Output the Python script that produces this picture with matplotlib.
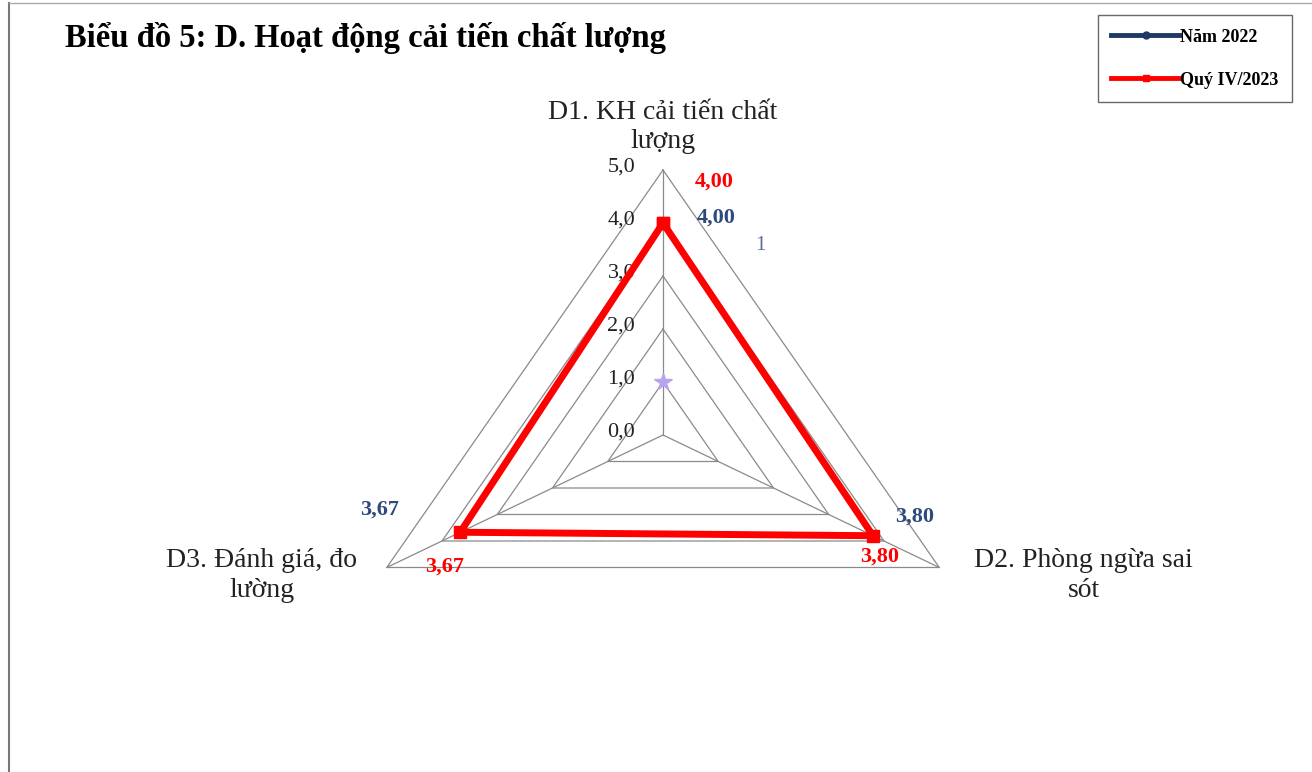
import numpy as np
import matplotlib
matplotlib.use("Agg")
import matplotlib.pyplot as plt
from matplotlib.lines import Line2D

SERIF = ['Liberation Serif', 'DejaVu Serif']
plt.rcParams['font.family'] = SERIF

# data
categories = ["D1. KH cải tiến chất\nlượng", "D2. Phòng ngừa sai\nsót", "D3. Đánh giá, đo\nlường"]
nam_2022 = [4.00, 3.80, 3.67]
quy4_2023 = [4.00, 3.80, 3.67]
series_names = ["Năm 2022", "Quý IV/2023"]
levels = [0, 1, 2, 3, 4, 5]
level_labels = ["0,0", "1,0", "2,0", "3,0", "4,0", "5,0"]
stray_point = 1.0  # lone star marker on D1 axis

RED = "#FF0000"
NAVY = "#1F3864"
BLUE_LBL = "#2E4A7A"
GRID = "#8A8A8A"

angles = np.array([0, 120, 240]) * np.pi / 180


def to_xy(vals):
    vals = np.asarray(vals, dtype=float)
    return vals * np.sin(angles), vals * np.cos(angles)


def closed(a):
    return np.append(a, a[0])


fig = plt.figure(figsize=(13.12, 7.72), dpi=100)
ax = fig.add_axes([0, 0, 1, 1])
# chart is stretched horizontally like the original picture
ax.set_xlim(-663 / 63.8, (1312 - 663) / 63.8)
ax.set_ylim(-(772 - 435) / 53.0, 435 / 53.0)
ax.axis('off')

# grid triangles and spokes
for lv in levels[1:]:
    gx, gy = to_xy([lv] * 3)
    ax.plot(closed(gx), closed(gy), color=GRID, lw=0.9, zorder=1)
ox, oy = to_xy([levels[-1]] * 3)
for x, y in zip(ox, oy):
    ax.plot([0, x], [0, y], color=GRID, lw=0.9, zorder=1)

# radial tick labels along D1
for lv, lab in zip(levels, level_labels):
    ax.annotate(lab, (0, lv), xytext=(-20, 2), textcoords='offset points',
                ha='right', va='center', fontsize=16, color='#222222')

# series
bx, by = to_xy(nam_2022)
ax.plot(closed(bx), closed(by), color=NAVY, lw=3, marker='D', ms=5, zorder=3)
rx, ry = to_xy(quy4_2023)
ax.plot(closed(rx), closed(ry), color=RED, lw=5, marker='s', ms=8.5, zorder=4)

# stray star marker and "1"
sx, sy = np.sin(angles[0]) * stray_point, np.cos(angles[0]) * stray_point
ax.plot(sx, sy, marker='*', ms=13, color='#B9A3EE', ls='none', zorder=5)
ax.text(1.52, 3.58, "1", fontsize=15, color='#5A6E9A', ha='center', va='center')

# value labels (offsets in points)
blue_off = [(38, 4), (30, 14), (-58, 16)]
red_off = [(37, 30), (5, -15), (-11, -25)]
for i in range(3):
    ax.annotate(f"{nam_2022[i]:.2f}".replace('.', ','), (bx[i], by[i]),
                xytext=blue_off[i], textcoords='offset points', ha='center',
                va='center', fontsize=16, fontweight='bold', color=BLUE_LBL, zorder=6)
    ax.annotate(f"{quy4_2023[i]:.2f}".replace('.', ','), (rx[i], ry[i]),
                xytext=red_off[i], textcoords='offset points', ha='center',
                va='center', fontsize=16, fontweight='bold', color=RED, zorder=6)

# category labels
cat_off = [(0, 31), (104, -6), (-90, -6)]
for i, cat in enumerate(categories):
    ax.annotate(cat, (ox[i], oy[i]), xytext=cat_off[i], textcoords='offset points',
                ha='center', va='center', fontsize=20, color='#222222',
                linespacing=1.25)

# title
fig.text(65 / 1312, 1 - 38 / 772, "Biểu đồ 5: D. Hoạt động cải tiến chất lượng",
         fontsize=23.5, fontweight='bold', ha='left', va='center')

# legend with proxy handles (thinner than the plotted lines)
handles = [Line2D([], [], color=NAVY, lw=3.5, marker='o', ms=5),
           Line2D([], [], color=RED, lw=3.5, marker='s', ms=5)]
leg = ax.legend(handles, series_names, loc='upper right',
                bbox_to_anchor=(1292 / 1312, 1 - 15 / 772),
                bbox_transform=fig.transFigure, frameon=True, fancybox=False,
                edgecolor='#444444', handlelength=3.8, handletextpad=0.0,
                borderpad=0.75, labelspacing=1.45, borderaxespad=0,
                prop={'family': SERIF, 'size': 13, 'weight': 'bold'})
leg.get_frame().set_linewidth(1.0)

# outer border (left and top edges visible)
fig.add_artist(Line2D([9 / 1312, 9 / 1312], [0, 1 - 3 / 772], color='#777777', lw=1.5,
                      transform=fig.transFigure))
fig.add_artist(Line2D([9 / 1312, 1], [1 - 3 / 772, 1 - 3 / 772], color='#AAAAAA', lw=1.0,
                      transform=fig.transFigure))

fig.savefig("out.png", dpi=100)
